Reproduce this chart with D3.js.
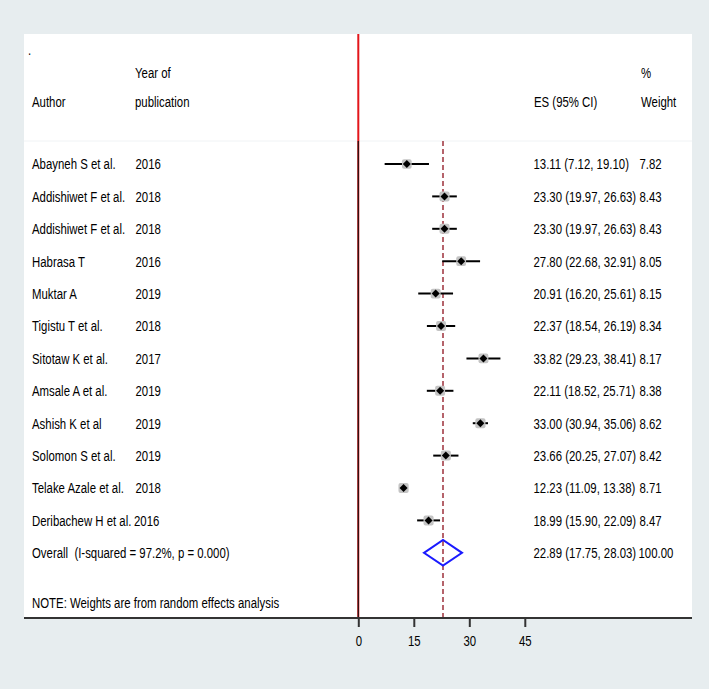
<!DOCTYPE html>
<html>
<head>
<meta charset="utf-8">
<script src="https://cdn.jsdelivr.net/npm/d3@7"></script>
<style>
  html, body { margin: 0; padding: 0; background: #e7edef; }
  svg { display: block; }
  text { font-family: "Liberation Sans", Arial, sans-serif; font-size: 15px; fill: #000; white-space: pre; }
</style>
</head>
<body>
<svg id="chart" width="709" height="689"></svg>
<script>
// ---- data ----
const authors = ["Abayneh S et al.", "Addishiwet F et al.", "Addishiwet F et al.", "Habrasa T", "Muktar A",
  "Tigistu T et al.", "Sitotaw K et al.", "Amsale A et al.", "Ashish K et al", "Solomon S et al.",
  "Telake Azale et al.", "Deribachew H et al."];
const years = ["2016", "2018", "2018", "2016", "2019", "2018", "2017", "2019", "2019", "2019", "2018", "2016"];
const es = [13.11, 23.30, 23.30, 27.80, 20.91, 22.37, 33.82, 22.11, 33.00, 23.66, 12.23, 18.99];
const lo = [7.12, 19.97, 19.97, 22.68, 16.20, 18.54, 29.23, 18.52, 30.94, 20.25, 11.09, 15.90];
const hi = [19.10, 26.63, 26.63, 32.91, 25.61, 26.19, 38.41, 25.71, 35.06, 27.07, 13.38, 22.09];
const weights = [7.82, 8.43, 8.43, 8.05, 8.15, 8.34, 8.17, 8.38, 8.62, 8.42, 8.71, 8.47];
const overallLabel = "Overall  (I-squared = 97.2%, p = 0.000)";
const overall = { es: 22.89, lo: 17.75, hi: 28.03, weight: 100.00 };
const xTicks = [0, 15, 30, 45];
const note = "NOTE: Weights are from random effects analysis";

// ---- layout ----
const svg = d3.select("#chart");
const panel = { left: 24, right: 692, top: 34, bottom: 618 };
const SX = 0.76; // horizontal text compression
const x = d3.scaleLinear().domain([0, 45]).range([358.3, 524.8]);
const rowIdx = d3.range(authors.length + 1);
const y = d3.scalePoint().domain(rowIdx).range([164, 552.8]);

function txt(g, s, tx, ty, anchor) {
  return g.append("text")
    .attr("transform", `translate(${tx},${ty}) scale(${SX},1)`)
    .attr("dy", "0.36em")
    .attr("xml:space", "preserve")
    .attr("text-anchor", anchor || "start")
    .text(s);
}

// white panel
svg.append("rect")
  .attr("x", panel.left).attr("y", panel.top)
  .attr("width", panel.right - panel.left).attr("height", panel.bottom - panel.top)
  .attr("fill", "#ffffff");

// faint header separator
svg.append("line")
  .attr("x1", panel.left).attr("x2", panel.right)
  .attr("y1", 141).attr("y2", 141)
  .attr("stroke", "#f0f3f5").attr("stroke-width", 1);

// red full-height line at 0
svg.append("line")
  .attr("x1", x(0)).attr("x2", x(0))
  .attr("y1", panel.top).attr("y2", panel.bottom)
  .attr("stroke", "#e3161b").attr("stroke-width", 2);
// black null line
svg.append("line")
  .attr("x1", x(0)).attr("x2", x(0))
  .attr("y1", 141).attr("y2", panel.bottom)
  .attr("stroke", "#2a1010").attr("stroke-width", 1.3);

// dashed overall line
svg.append("line")
  .attr("x1", x(overall.es)).attr("x2", x(overall.es))
  .attr("y1", 141).attr("y2", panel.bottom)
  .attr("stroke", "#b5636b").attr("stroke-width", 2)
  .attr("stroke-dasharray", "5,3");

// header texts
const hdr = svg.append("g");
txt(hdr, ".", 28, 50);
txt(hdr, "Year of", 135, 73);
txt(hdr, "%", 641, 73);
txt(hdr, "Author", 32, 102);
txt(hdr, "publication", 135, 102);
txt(hdr, "ES (95% CI)", 534, 102);
txt(hdr, "Weight", 641, 102);

// study rows
const rows = svg.append("g");
authors.forEach((a, i) => {
  const yy = y(i);
  txt(rows, a, 32, yy);
  txt(rows, years[i], i === 11 ? 134 : 135.5, yy);
  txt(rows, `${es[i].toFixed(2)} (${lo[i].toFixed(2)}, ${hi[i].toFixed(2)})`, 533.5, yy);
  txt(rows, weights[i].toFixed(2), 639.5, yy);
});

// CI lines, weight boxes, point markers
const marks = svg.append("g");
marks.selectAll("line.ci").data(es).join("line")
  .attr("class", "ci")
  .attr("x1", (d, i) => x(lo[i])).attr("x2", (d, i) => x(hi[i]))
  .attr("y1", (d, i) => y(i)).attr("y2", (d, i) => y(i))
  .attr("stroke", "#000").attr("stroke-width", 2);
marks.selectAll("rect.box").data(es).join("rect")
  .attr("class", "box")
  .attr("x", (d, i) => x(d) - 5 * Math.sqrt(weights[i] / 8.4))
  .attr("y", (d, i) => y(i) - 5 * Math.sqrt(weights[i] / 8.4))
  .attr("width", (d, i) => 10 * Math.sqrt(weights[i] / 8.4))
  .attr("height", (d, i) => 10 * Math.sqrt(weights[i] / 8.4))
  .attr("rx", 2)
  .attr("fill", "#c4c4c4");
marks.selectAll("path.pt").data(es).join("path")
  .attr("class", "pt")
  .attr("transform", (d, i) => `translate(${x(d)},${y(i)})`)
  .attr("d", "M0,-4L4,0L0,4L-4,0Z")
  .attr("fill", "#000");

// overall row
const oy = y(authors.length);
txt(rows, overallLabel, 32, oy);
txt(rows, `${overall.es.toFixed(2)} (${overall.lo.toFixed(2)}, ${overall.hi.toFixed(2)})`, 533.5, oy);
txt(rows, overall.weight.toFixed(2), 638.5, oy);
svg.append("path")
  .attr("d", `M${x(overall.lo)},${oy} L${x(overall.es)},${oy - 12.8} L${x(overall.hi)},${oy} L${x(overall.es)},${oy + 12.8} Z`)
  .attr("fill", "none").attr("stroke", "#1a1aff").attr("stroke-width", 2);

// note
txt(rows, note, 32, 603);

// axis
const axis = svg.append("g")
  .attr("transform", `translate(0,${panel.bottom})`)
  .call(d3.axisBottom(x).tickValues(xTicks).tickSize(9).tickPadding(8).tickFormat(d3.format("d")));
axis.select(".domain").remove();
axis.selectAll(".tick line").attr("stroke", "#333").attr("stroke-width", 2);
axis.selectAll(".tick text")
  .attr("font-size", 15).attr("font-family", "Liberation Sans, Arial, sans-serif")
  .attr("fill", "#000")
  .attr("transform", `scale(${SX},1)`);
svg.append("line")
  .attr("x1", panel.left).attr("x2", panel.right)
  .attr("y1", panel.bottom).attr("y2", panel.bottom)
  .attr("stroke", "#333").attr("stroke-width", 2);
</script>
</body>
</html>
